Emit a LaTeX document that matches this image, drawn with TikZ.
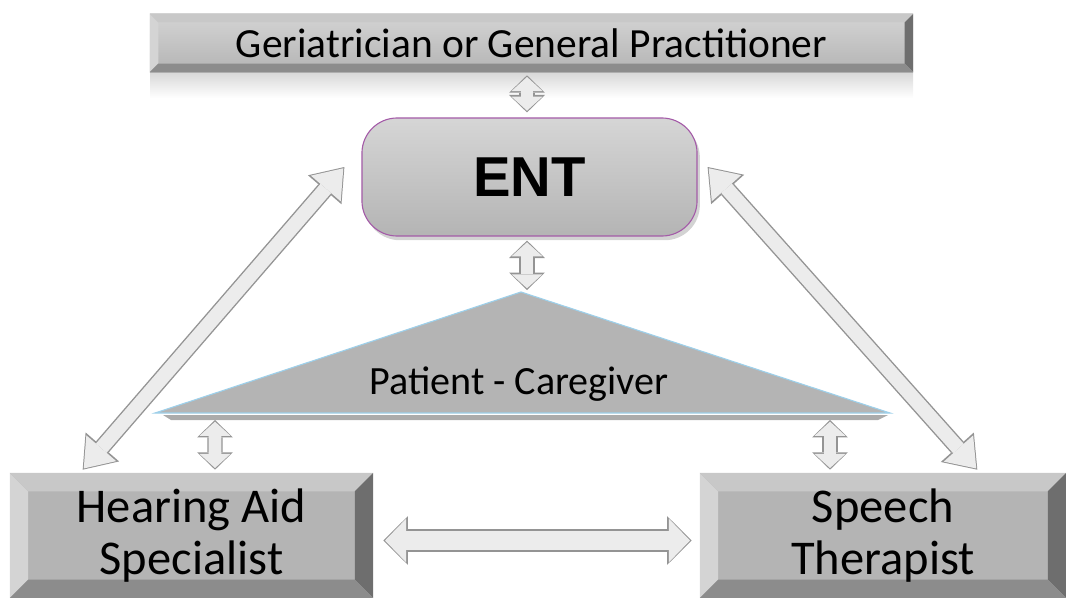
\documentclass[tikz,border=0pt]{standalone}
\usepackage{fontspec}
\setmainfont{Carlito}
\newfontfamily\entfont{Liberation Sans}
\usepackage{xcolor}
\usetikzlibrary{positioning, arrows.meta, calc, shadows}

\definecolor{face}{HTML}{B4B4B4}
\definecolor{lite}{HTML}{D4D4D4}
\definecolor{topf}{HTML}{C8C8C8}
\definecolor{dark}{HTML}{6E6E6E}
\definecolor{botf}{HTML}{8C8C8C}
\definecolor{rim}{HTML}{A45CA8}
\definecolor{edge}{HTML}{9ED0EA}
\definecolor{silver}{HTML}{ECECEC}
\definecolor{steel}{HTML}{949494}

\begin{document}
\begin{tikzpicture}[x=0.025cm,y=-0.025cm,
    bevel/.style={fill=face, inner sep=0pt, align=center, path picture={
        \fill[lite] (path picture bounding box.north west) -- (path picture bounding box.south west)
            -- ([shift={(#1,#1)}]path picture bounding box.south west) -- ([shift={(#1,-#1)}]path picture bounding box.north west) -- cycle;
        \fill[topf] (path picture bounding box.north west) -- (path picture bounding box.north east)
            -- ([shift={(-#1,-#1)}]path picture bounding box.north east) -- ([shift={(#1,-#1)}]path picture bounding box.north west) -- cycle;
        \fill[dark] (path picture bounding box.north east) -- (path picture bounding box.south east)
            -- ([shift={(-#1,#1)}]path picture bounding box.south east) -- ([shift={(-#1,-#1)}]path picture bounding box.north east) -- cycle;
        \fill[botf] (path picture bounding box.south west) -- (path picture bounding box.south east)
            -- ([shift={(-#1,#1)}]path picture bounding box.south east) -- ([shift={(#1,#1)}]path picture bounding box.south west) -- cycle;
    }},
    ent/.style={draw=rim, line width=0.8pt, rounded corners=25pt, top color=face!55!white, bottom color=face,
        minimum width=8.375cm, minimum height=2.95cm, drop shadow={shadow xshift=2pt, shadow yshift=-3pt, opacity=0.35},
        font=\entfont\bfseries\fontsize{40}{46}\selectfont},
    twin/.style n args={3}{draw=silver, line width=#1, shorten >=1.2pt, shorten <=1.2pt,
        {Triangle[length=#2, width=#3, line width=0pt]}-{Triangle[length=#2, width=#3, line width=0pt]},
        preaction={draw=steel, line width=#1+2pt, shorten >=0pt, shorten <=0pt,
        {Triangle[length=#2+2.4pt, width=#3+3.5pt, line width=0pt]}-{Triangle[length=#2+2.4pt, width=#3+3.5pt, line width=0pt]}}},
    small/.style={twin={9pt}{10pt}{22pt}},
    diag/.style={twin={10pt}{19pt}{28pt}},
    wide/.style={twin={14pt}{15pt}{31pt}}]

    \useasboundingbox (0,0) rectangle (1066,598);

    \node[bevel=6pt, top color=lite, bottom color=face, minimum width=19.075cm, minimum height=1.45cm,
        font=\fontsize{29.5}{34}\selectfont] (gp) at (531.5,43) {Geriatrician or General Practitioner};
    \shade[top color=gray!30, bottom color=white] (150,73) rectangle (913,98);

    \node[ent] (ent) at (529.5,177) {ENT};

    \coordinate (apex) at (521,292);
    \coordinate (bl) at (155,413);
    \coordinate (br) at (890,413);
    \fill[black!55, opacity=0.6] ($(bl)+(8,2)$) -- ($(br)+(-2,2)$) -- ($(br)+(-12,7)$) -- ($(bl)+(16,7)$) -- cycle;
    \filldraw[fill=face, draw=edge, line width=0.8pt] (apex) -- (br) -- (bl) -- cycle;
    \node[font=\fontsize{28.5}{33}\selectfont] (pc) at (519,384) {Patient - Caregiver};

    \node[bevel=13pt, minimum width=9.075cm, minimum height=3.125cm,
        font=\fontsize{34.5}{37.5}\selectfont] (ha) at (191.5,535.5) {Hearing Aid\\Specialist};
    \node[bevel=13pt, minimum width=9.15cm, minimum height=3.125cm,
        font=\fontsize{34.5}{37.5}\selectfont] (st) at (883,535.5) {Speech\\Therapist};

    \draw[small] ($(gp.south)+(-4.5,3)$) -- ($(ent.north)+(-2.5,-5)$);
    \draw[small] ($(ent.south)+(-2.5,4)$) -- ($(apex)+(6,-2)$);
    \draw[small] ($(bl)+(60,7)$) -- ($(ha.north)+(23.5,-3)$);
    \draw[small] ($(br)+(-60,7)$) -- ($(st.north)+(-53,-3)$);
    \draw[wide] ($(ha.east)+(10,5)$) -- ($(st.west)+(-8,5)$);
    \draw[diag] ($(ha.north west)+(73,-3)$) -- ($(ent.west)+(-17,-10)$);
    \draw[diag] ($(ent.east)+(10,-10)$) -- ($(st.north east)+(-89,-3)$);
\end{tikzpicture}
\end{document}
